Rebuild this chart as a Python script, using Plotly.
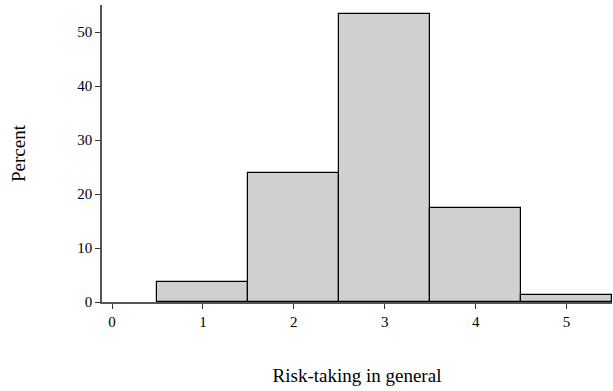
import plotly.graph_objects as go

categories = [1, 2, 3, 4, 5]
percent = [3.65, 23.9, 53.3, 17.5, 1.35]
x_ticks = [0, 1, 2, 3, 4, 5]
y_ticks = [0, 10, 20, 30, 40, 50]

fig = go.Figure(go.Bar(
    x=categories, y=percent, width=1,
    marker=dict(color="#d0d0d0", line=dict(color="black", width=1.2)),
))

font = "Liberation Serif, Times New Roman, serif"
fig.update_layout(
    width=613, height=391,
    margin=dict(l=102, r=1, t=5, b=89),
    plot_bgcolor="white", paper_bgcolor="white",
    font=dict(family=font, size=15, color="black"),
    showlegend=False, bargap=0,
)
fig.update_xaxes(
    range=[-0.11, 5.5], tickvals=x_ticks, ticks="outside", ticklen=5,
    tickcolor="#333", showline=True, linecolor="#555", linewidth=1.5,
    showgrid=False, zeroline=False, tickfont=dict(color="black"),
    title=dict(text="Risk-taking in general", font=dict(size=19), standoff=40),
)
fig.update_yaxes(
    range=[0, 55], tickvals=y_ticks, ticks="outside", ticklen=5,
    tickcolor="#333", showline=True, linecolor="#555", linewidth=1.5,
    showgrid=False, zeroline=False, tickfont=dict(color="black"),
    title=dict(text="Percent", font=dict(size=19), standoff=47),
)
fig.write_html("out.html")
